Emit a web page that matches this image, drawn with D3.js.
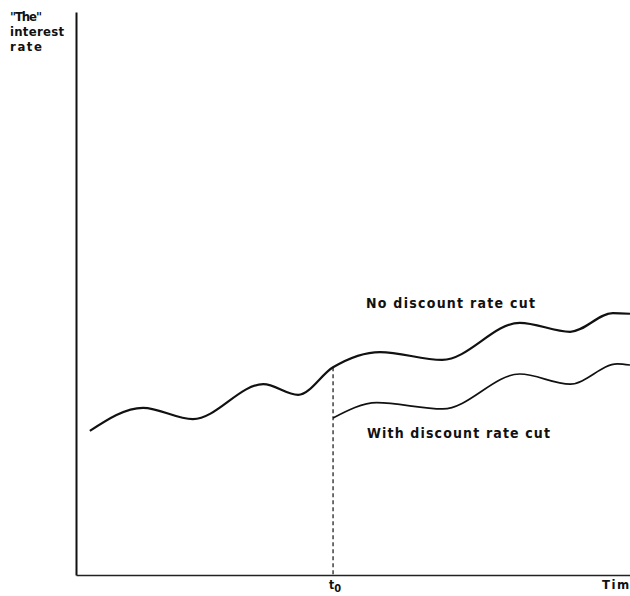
<!DOCTYPE html>
<html><head><meta charset="utf-8">
<script src="https://cdn.jsdelivr.net/npm/d3@7"></script>
<style>
html,body{margin:0;padding:0;background:#fff;overflow:hidden}
text{font-family:"DejaVu Sans Condensed","DejaVu Sans",sans-serif;font-weight:bold;fill:#111}
</style></head><body>
<svg id="c" width="630" height="596"></svg>
<script>
// Time (0-100) and "the" interest rate (0-100)
const upperTime = [2.5, 12.1, 21.1, 33.8, 40.1, 46.4, 54.9, 66.1, 80.1, 89.2, 96.9, 100];
const upperRate = [25.6, 29.7, 27.7, 33.9, 32.0, 36.9, 39.6, 38.2, 44.8, 43.2, 46.5, 46.4];
const lowerTime = [46.4, 54.3, 66.2, 80.1, 89.2, 97.7, 100];
const lowerRate = [27.9, 30.6, 29.5, 35.7, 33.9, 37.5, 37.3];
const t0 = 46.4;
const seriesLabels = ["No discount rate cut", "With discount rate cut"];
const yAxisLabel = ["''The''", "interest", "rate"];
const xAxisLabel = "Tim";

const svg = d3.select("#c");
const x = d3.scaleLinear().domain([0, 100]).range([76, 630]);
const y = d3.scaleLinear().domain([0, 100]).range([575, 12]);

const line = d3.line().x(d => x(d[0])).y(d => y(d[1])).curve(d3.curveMonotoneX);
const upper = upperTime.map((t, i) => [t, upperRate[i]]);
const lower = lowerTime.map((t, i) => [t, lowerRate[i]]);

// axes (no ticks)
svg.append("g").attr("transform", `translate(${x(0)},0)`)
  .call(d3.axisLeft(y).tickValues([]).tickSizeOuter(0))
  .call(g => g.select(".domain").attr("stroke", "#111").attr("stroke-width", 2));
svg.append("g").attr("transform", `translate(0,${y(0)})`)
  .call(d3.axisBottom(x).tickValues([]).tickSizeOuter(0))
  .call(g => g.select(".domain").attr("stroke", "#222").attr("stroke-width", 1.6));

// dashed t0 line
const upperAtT0 = upperRate[upperTime.indexOf(t0)];
svg.append("line")
  .attr("x1", x(t0)).attr("x2", x(t0))
  .attr("y1", y(upperAtT0)).attr("y2", y(0))
  .attr("stroke", "#111").attr("stroke-width", 1.2).attr("stroke-dasharray", "4,3");

svg.append("path").datum(upper).attr("d", line)
  .attr("fill", "none").attr("stroke", "#111").attr("stroke-width", 2.2);
svg.append("path").datum(lower).attr("d", line)
  .attr("fill", "none").attr("stroke", "#111").attr("stroke-width", 1.7);

// labels
svg.append("text").attr("x", 366).attr("y", 308).attr("font-size", 14)
  .attr("textLength", 169).attr("lengthAdjust", "spacing").text(seriesLabels[0]);
svg.append("text").attr("x", 367).attr("y", 438).attr("font-size", 14)
  .attr("textLength", 183).attr("lengthAdjust", "spacing").text(seriesLabels[1]);

const yl = svg.append("text").attr("font-size", 13);
const widths = [32, 54, 32];
yAxisLabel.forEach((s, i) => {
  yl.append("tspan").attr("x", 10).attr("y", 21 + i * 15)
    .attr("textLength", widths[i]).attr("lengthAdjust", "spacing").text(s);
});

const tl = svg.append("text").attr("x", x(t0) - 4).attr("y", 589).attr("font-size", 12);
tl.append("tspan").text("t");
tl.append("tspan").attr("dy", 3).attr("font-size", 11).text("0");

svg.append("text").attr("x", 602).attr("y", 589).attr("font-size", 13)
  .attr("letter-spacing", 1.5).text(xAxisLabel);
</script>
</body></html>
